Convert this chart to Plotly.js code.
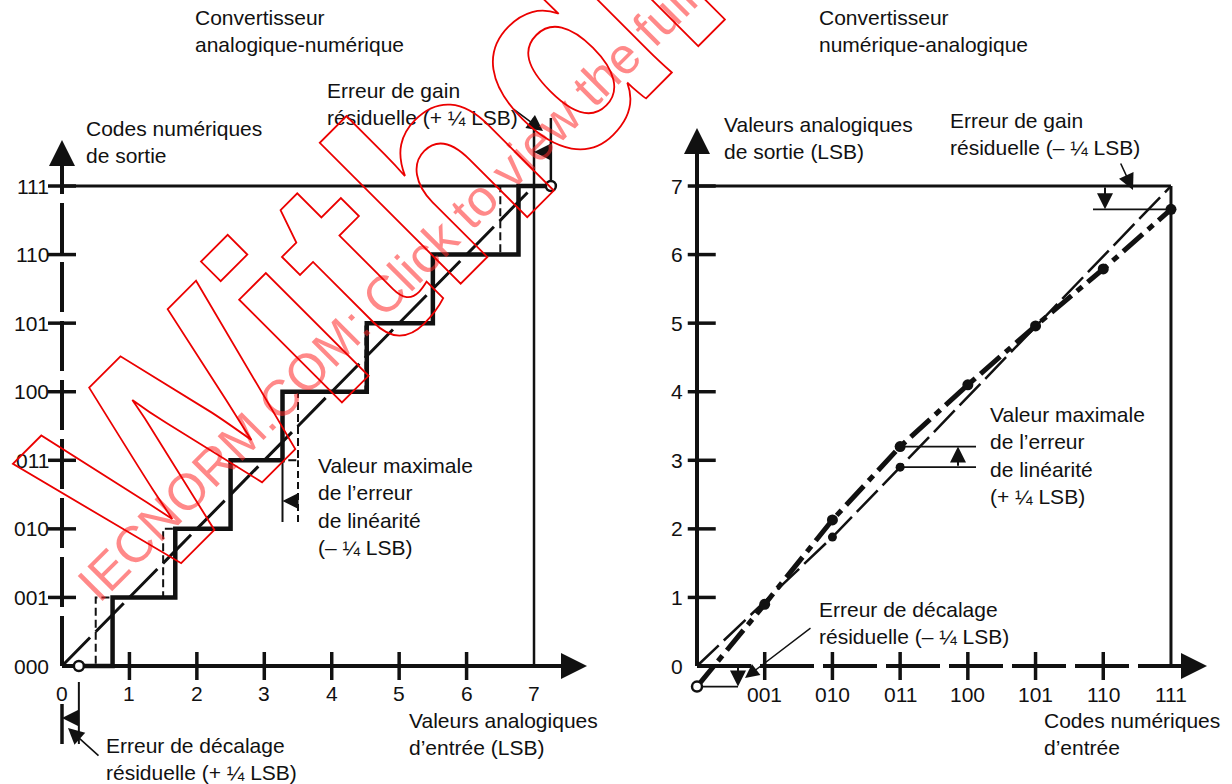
<!DOCTYPE html>
<html><head><meta charset="utf-8">
<script src="https://cdn.plot.ly/plotly-3.0.1.min.js"></script>
<style>html,body{margin:0;padding:0;background:#fff}#chart{width:1232px;height:784px}</style>
</head><body><div id="chart"></div>
<script>
// ---------------- data ----------------
const adcCodeLabels = ['000','001','010','011','100','101','110','111'];
const adcCodeLevels = [0,1,2,3,4,5,6,7];
const adcInputTicks = [0,1,2,3,4,5,6,7];
const adcIdealTransitions = [0.5,1.5,2.5,3.5,4.5,5.5,6.5];
const adcActualTransitions = [0.75,1.68,2.5,3.27,4.52,5.5,6.77];
const adcActualStart = 0.25;   // offset error +1/4 LSB
const adcActualEnd = 7.25;     // gain error +1/4 LSB
const adcFullScale = 7;

const dacCodeLabels = ['001','010','011','100','101','110','111'];
const dacCodes = [1,2,3,4,5,6,7];
const dacOutputTicks = [0,1,2,3,4,5,6,7];
const dacActualCodes = [0,1,2,3,4,5,6,7];
const dacActualValues = [-0.3,0.9,2.13,3.2,4.1,4.96,5.79,6.66];
const dacIdealCodes = [0,2,3,7];
const dacIdealValues = [0,1.88,2.9,7];
const dacIdealDotCodes = [2,3];
const dacIdealDotValues = [1.88,2.9];
const dacFullScale = 7;

// ---------------- layout geometry ----------------
const W = 1232, H = 784;
const LM = {x0:62, sx:67.43, y0:666, sy:68.57};
const RM = {x0:697, sx:67.71, y0:666, sy:68.57};
const lx = px => (px-LM.x0)/LM.sx, ly = py => (LM.y0-py)/LM.sy;
const rx = px => (px-RM.x0)/RM.sx, ry = py => (RM.y0-py)/RM.sy;

const FF = 'Liberation Sans, Arial, Helvetica, sans-serif';
const font = {family:FF, size:21, color:'#111'};
const K = '#111';

function line(xs, ys, ax, w, dash){
  return {type:'scatter', mode:'lines', x:xs, y:ys, xaxis:ax[0], yaxis:ax[1],
    line:{color:K, width:w, dash:dash||'solid'}, hoverinfo:'skip', cliponaxis:false};
}
function marks(xs, ys, ax, symbol, size, lw, fill){
  return {type:'scatter', mode:'markers', x:xs, y:ys, xaxis:ax[0], yaxis:ax[1],
    marker:{symbol:symbol, size:size, color:fill||K, line:{color:K, width:lw}}, hoverinfo:'skip', cliponaxis:false};
}
const A1 = ['x','y'], A2 = ['x2','y2'];

// staircases
function stair(start, trans, end){
  const xs=[start], ys=[0];
  trans.forEach((t,i)=>{ xs.push(t,t); ys.push(i,i+1); });
  xs.push(end); ys.push(trans.length);
  return [xs, ys];
}
const idealStair = stair(0, adcIdealTransitions, adcFullScale);
const actualStair = stair(adcActualStart, adcActualTransitions, adcActualEnd);

const traces = [];
// ---- left: ADC ----
traces.push(line([0,0],[0,adcFullScale],A1,4,'50px,9px'));                 // y axis (dashed)
traces.push(line([0,7.4],[0,0],A1,4));                                     // x axis
traces.push(marks(adcCodeLevels.slice(1).map(()=>0), adcCodeLevels.slice(1), A1,'line-ew',20,3.5));
traces.push(marks(adcInputTicks.slice(1,7), adcInputTicks.slice(1,7).map(()=>0), A1,'line-ns',20,3.5));
traces.push(line([0,adcActualEnd],[adcFullScale,adcFullScale],A1,3));     // 111 level line
traces.push(line([adcFullScale,adcFullScale],[0,ly(118)],A1,2.5));         // x = 7
traces.push(line([adcActualEnd,adcActualEnd],[adcFullScale,ly(118)],A1,2.5)); // x = 7.25
traces.push(line(idealStair[0], idealStair[1], A1, 2, '8px,4px'));
traces.push(line([0,adcFullScale],[0,adcFullScale],A1,3,'40px,8px'));      // ideal straight line
traces.push(line(actualStair[0], actualStair[1], A1, 4.5));
// linearity error extension lines
traces.push(line([adcActualTransitions[3],adcActualTransitions[3]],[ly(522),3],A1,2));
traces.push(line([adcIdealTransitions[3],adcIdealTransitions[3]],[ly(522),3],A1,2,'7px,4px'));
// offset error dimension lines
traces.push(line([0,0],[ly(704),ly(744)],A1,3.5));
traces.push(line([adcActualStart,adcActualStart],[ly(682),ly(744)],A1,2));
// open circles
traces.push(marks([adcActualStart, adcActualEnd],[0, adcFullScale],A1,'circle',10,2.5,'#fff'));

// ---- right: DAC ----
traces.push(line([0,0],[0,dacFullScale+0.2],A2,4));                        // y axis
traces.push(line([0,7.3],[0,0],A2,4,'54px,9px'));                          // x axis (dashed)
traces.push(marks(dacOutputTicks.slice(1).map(()=>0.07), dacOutputTicks.slice(1), A2,'line-ew',20,3.5));
traces.push(marks(dacCodes.slice(0,6), dacCodes.slice(0,6).map(()=>0), A2,'line-ns',20,3.5));
traces.push(line([0,dacFullScale],[dacFullScale,dacFullScale],A2,3));
traces.push(line([dacFullScale,dacFullScale],[0,dacFullScale],A2,3));
traces.push(line(dacIdealCodes, dacIdealValues, A2, 2.5, '30px,7px'));
traces.push(line(dacActualCodes, dacActualValues, A2, 5, '26px,7px,7px,7px'));
traces.push(marks(dacActualCodes.slice(1), dacActualValues.slice(1), A2,'circle',11,0));
traces.push(marks(dacIdealDotCodes, dacIdealDotValues, A2,'circle',9,0));
// dimension lines
traces.push(line([0, rx(738)],[dacActualValues[0],dacActualValues[0]],A2,1.8));
traces.push(line([3, rx(976)],[dacActualValues[3],dacActualValues[3]],A2,1.8));
traces.push(line([3, rx(976)],[dacIdealDotValues[1],dacIdealDotValues[1]],A2,1.8));
traces.push(line([rx(1093), 7],[dacActualValues[7],dacActualValues[7]],A2,1.8));
traces.push(marks([0],[dacActualValues[0]],A2,'circle',10,2.5,'#fff'));

// ---------------- annotations ----------------
const ann = [];
function txt(px, py, text, xanchor){
  ann.push({xref:'paper', yref:'paper', x:px/W, y:1-py/H, text:text, showarrow:false,
    xanchor:xanchor||'left', yanchor:'middle', align:'left', font:font});
}
function darrow(ax, x, y, tx, ty, w, s){  // arrow in data coords, tail (x,y) -> tip (tx,ty)
  ann.push({xref:ax[0], yref:ax[1], axref:ax[0], ayref:ax[1], x:tx, y:ty, ax:x, ay:y,
    text:'', showarrow:true, arrowhead:2, arrowwidth:w, arrowsize:s, arrowcolor:K, standoff:0});
}
function parrow(px, py, tpx, tpy, w, s){    // arrow in pixels, tail -> tip
  ann.push({xref:'paper', yref:'paper', x:tpx/W, y:1-tpy/H, ax:px-tpx, ay:py-tpy,
    text:'', showarrow:true, arrowhead:2, arrowwidth:w, arrowsize:s, arrowcolor:K, standoff:0});
}

// tick labels
adcCodeLabels.forEach((t,i)=>ann.push({xref:'x', yref:'y', x:0, y:adcCodeLevels[i], text:t, showarrow:false,
  xanchor:'right', yanchor:'middle', xshift:-11, font:font}));
adcInputTicks.forEach(v=>ann.push({xref:'x', yref:'y', x:v, y:0, text:String(v), showarrow:false,
  xanchor:'center', yanchor:'middle', yshift:-27, font:font}));
dacOutputTicks.forEach(v=>ann.push({xref:'x2', yref:'y2', x:0, y:v, text:String(v), showarrow:false,
  xanchor:'right', yanchor:'middle', xshift:-12, font:font}));
dacCodeLabels.forEach((t,i)=>ann.push({xref:'x2', yref:'y2', x:dacCodes[i], y:0, text:t, showarrow:false,
  xanchor:'center', yanchor:'middle', yshift:-28, font:font}));

// axis arrow heads
darrow(A1, 0, 6.9, 0, ly(140), 4, 1.3);
darrow(A1, 7.2, 0, lx(587), 0, 4, 1.3);
darrow(A2, 0, 7.0, 0, ry(128), 4, 1.3);
darrow(A2, 7.1, 0, rx(1207), 0, 4, 1.3);

// dimension arrows
darrow(A1, adcIdealTransitions[3], ly(501), adcActualTransitions[3], ly(501), 2, 1.6);
darrow(A1, adcActualStart, ly(718), 0, ly(718), 2, 1.6);
darrow(A1, adcActualEnd, ly(152), adcFullScale, ly(152), 2, 1.6);
darrow(A2, rx(738), 0, rx(738), dacActualValues[0], 2, 1.6);
darrow(A2, rx(958), dacIdealDotValues[1], rx(958), dacActualValues[3], 2, 1.6);
darrow(A2, rx(1105), dacFullScale, rx(1105), dacActualValues[7], 2, 1.6);

// leader arrows
parrow(512, 108, 543, 131, 1.6, 2);
parrow(100, 757, 68, 728, 1.6, 2);
parrow(1120, 162, 1133, 190, 1.6, 2);
parrow(812, 627, 745, 678, 1.4, 2);

// texts
txt(193, 31, 'Convertisseur<br>analogique-numérique');
txt(84, 142, 'Codes numériques<br>de sortie');
txt(325, 104, 'Erreur de gain<br>résiduelle (+ ¼ LSB)');
txt(316, 506, 'Valeur maximale<br>de l’erreur<br>de linéarité<br>(– ¼ LSB)');
txt(407, 734, 'Valeurs analogiques<br>d’entrée (LSB)');
txt(104, 759, 'Erreur de décalage<br>résiduelle (+ ¼ LSB)');
txt(817, 31, 'Convertisseur<br>numérique-analogique');
txt(722, 138, 'Valeurs analogiques<br>de sortie (LSB)');
txt(948, 134, 'Erreur de gain<br>résiduelle (– ¼ LSB)');
txt(988, 455, 'Valeur maximale<br>de l’erreur<br>de linéarité<br>(+ ¼ LSB)');
txt(817, 623, 'Erreur de décalage<br>résiduelle (– ¼ LSB)');
txt(1042, 734, 'Codes numériques<br>d’entrée');

// watermark
ann.push({xref:'paper', yref:'paper', x:428/W, y:1-250/H, text:'IECNORM.COM: Click to view the full PDF',
  showarrow:false, textangle:-45, xanchor:'center', yanchor:'middle',
  font:{family:FF, size:51, color:'rgba(255,40,40,0.55)'}});
ann.push({xref:'paper', yref:'paper', x:575/W, y:1-35/H, text:'Withdrawn',
  showarrow:false, textangle:-45, xanchor:'center', yanchor:'middle',
  font:{family:FF, size:275, weight:'bold', color:'rgba(230,0,0,0.9)'}});

const layout = {
  width:W, height:H, margin:{l:0,r:0,t:0,b:0}, showlegend:false,
  paper_bgcolor:'#fff', plot_bgcolor:'rgba(0,0,0,0)',
  xaxis:{domain:[0,0.5], range:[lx(0), lx(616)], visible:false, fixedrange:true},
  yaxis:{domain:[0,1], range:[ly(H), ly(0)], visible:false, fixedrange:true},
  xaxis2:{domain:[0.5,1], anchor:'y2', range:[rx(616), rx(W)], visible:false, fixedrange:true},
  yaxis2:{domain:[0,1], anchor:'x2', range:[ry(H), ry(0)], visible:false, fixedrange:true},
  annotations:ann
};

Plotly.newPlot('chart', traces, layout, {staticPlot:true, displayModeBar:false}).then(()=>{
  document.querySelectorAll('g.annotation text').forEach(el=>{
    if (el.textContent === 'Withdrawn'){
      el.style.fill = 'none';
      el.style.stroke = 'rgb(235,0,0)';
      el.style.strokeWidth = '1.8px';
    }
  });
});
</script>
</body></html>
